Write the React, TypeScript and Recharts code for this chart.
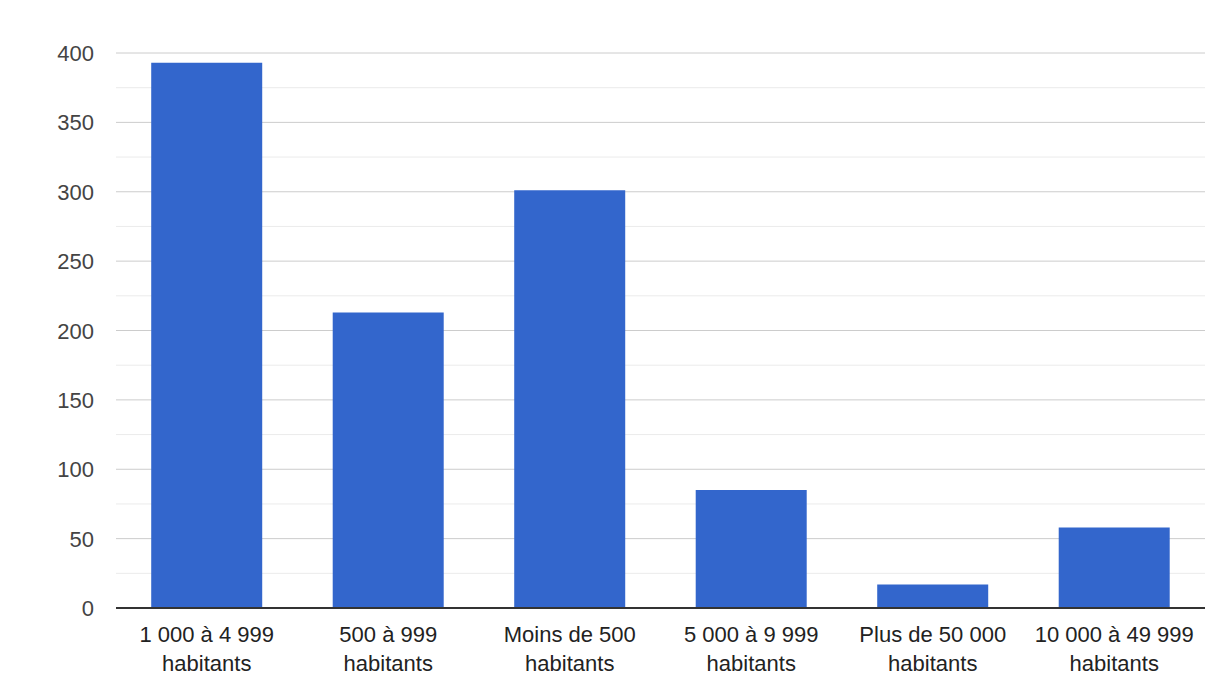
import { Bar, BarChart, CartesianGrid, XAxis, YAxis } from 'recharts';

const categories = [
  '1 000 à 4 999 habitants',
  '500 à 999 habitants',
  'Moins de 500 habitants',
  '5 000 à 9 999 habitants',
  'Plus de 50 000 habitants',
  '10 000 à 49 999 habitants',
];
const counts = [393, 213, 301, 85, 17, 58];
// labelled every 50, light minor line every 25
const yTicks = [0, 25, 50, 75, 100, 125, 150, 175, 200, 225, 250, 275, 300, 325, 350, 375, 400];

const data = categories.map((label, i) => ({ label, count: counts[i] }));

const FONT = 'Arial, "Liberation Sans", sans-serif';

// splits "X habitants" into two lines like the original
function CategoryTick({ x, y, payload }: any) {
  const text: string = payload.value;
  const cut = text.lastIndexOf(' habitants');
  const first = text.slice(0, cut);
  return (
    <text x={x} y={y} textAnchor="middle" fill="#222222" fontSize={22} fontFamily={FONT}>
      <tspan x={x} dy={26}>{first}</tspan>
      <tspan x={x} dy={29}>habitants</tspan>
    </text>
  );
}

function ValueTick({ x, y, payload }: any) {
  if (payload.value % 50 !== 0) return <g />;
  return (
    <text x={x} y={y} dy={8} textAnchor="end" fill="#444444" fontSize={22} fontFamily={FONT}>
      {payload.value}
    </text>
  );
}

function GridLine(props: any) {
  const { x1, x2, y1, y2, index } = props;
  return (
    <line
      x1={x1}
      x2={x2}
      y1={y1}
      y2={y2}
      stroke={index % 2 === 0 ? '#cccccc' : '#ebebeb'}
      strokeWidth={1}
    />
  );
}

export default function App() {
  return (
    <div style={{ margin: -8, width: 1219, height: 690, background: '#fff' }}>
      <BarChart
        width={1219}
        height={690}
        data={data}
        margin={{ top: 53, right: 14, bottom: 0, left: 0 }}
        barCategoryGap="19.4%"
      >
        <CartesianGrid vertical={false} horizontal={GridLine} />
        <XAxis
          dataKey="label"
          height={82}
          tickLine={false}
          axisLine={{ stroke: '#333333', strokeWidth: 2 }}
          interval={0}
          tick={<CategoryTick />}
        />
        <YAxis
          width={116}
          domain={[0, 400]}
          ticks={yTicks}
          interval={0}
          axisLine={false}
          tickLine={false}
          tickSize={0}
          tickMargin={22}
          tick={<ValueTick />}
        />
        <Bar dataKey="count" fill="#3366cc" isAnimationActive={false} />
      </BarChart>
    </div>
  );
}
